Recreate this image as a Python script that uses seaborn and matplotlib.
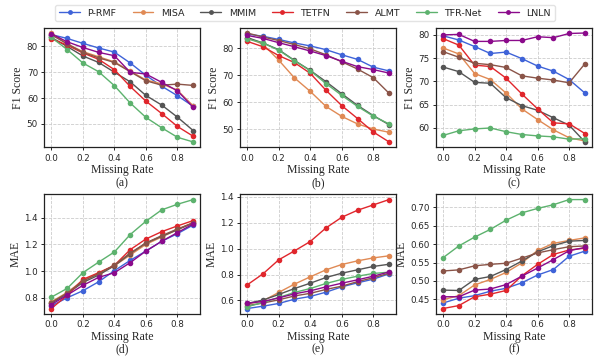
import numpy as np
import pandas as pd
import matplotlib
matplotlib.use("Agg")
import matplotlib.pyplot as plt
from matplotlib.ticker import MultipleLocator, FormatStrFormatter
import seaborn as sns

rates = [0.0, 0.1, 0.2, 0.3, 0.4, 0.5, 0.6, 0.7, 0.8, 0.9]
methods = ["P-RMF", "MISA", "MMIM", "TETFN", "ALMT", "TFR-Net", "LNLN"]
colors = ["#3f63d8", "#e08a55", "#555555", "#e0262c", "#8a5448", "#5db26e", "#8b0a8b"]

# F1 score, one row per method (same order as methods)
f1_a = [
    [84.6, 83.1, 81.2, 79.4, 77.8, 73.6, 68.8, 64.6, 60.9, 56.8],
    [85.2, 81.0, 78.0, 76.0, 74.0, 70.5, 67.0, 65.5, 63.0, 57.0],
    [83.5, 80.0, 76.3, 73.8, 70.0, 66.3, 61.0, 57.3, 52.6, 47.4],
    [83.0, 80.5, 77.5, 75.0, 71.0, 64.5, 58.8, 54.0, 49.0, 45.2],
    [84.5, 81.0, 77.7, 75.6, 73.8, 70.2, 66.7, 65.0, 65.4, 64.9],
    [83.5, 78.8, 73.6, 70.2, 64.8, 58.1, 52.5, 48.5, 44.8, 43.0],
    [84.9, 81.8, 79.6, 77.7, 76.4, 70.0, 69.3, 66.1, 62.8, 56.4],
]
f1_b = [
    [85.3, 84.5, 83.3, 82.0, 80.9, 79.5, 77.6, 75.9, 73.0, 71.6],
    [84.0, 81.5, 75.6, 69.0, 64.0, 58.4, 54.7, 51.9, 50.0, 48.8],
    [84.0, 82.0, 79.5, 75.5, 71.8, 67.6, 63.1, 58.8, 55.0, 51.6],
    [82.6, 80.6, 77.3, 74.7, 70.7, 64.4, 58.7, 53.9, 48.9, 45.2],
    [85.7, 84.2, 82.9, 81.4, 79.8, 77.6, 75.0, 72.3, 69.1, 63.3],
    [83.5, 82.0, 79.3, 75.4, 71.7, 66.9, 62.5, 58.4, 54.8, 51.9],
    [84.8, 83.7, 82.1, 80.6, 79.0, 77.3, 75.2, 73.2, 72.1, 70.8],
]
f1_c = [
    [79.8, 78.9, 77.5, 76.0, 76.3, 74.9, 73.3, 72.2, 70.4, 67.5],
    [77.2, 75.9, 71.7, 70.4, 67.5, 64.1, 61.8, 59.6, 57.9, 57.2],
    [73.1, 72.1, 69.8, 69.6, 66.5, 64.8, 63.8, 62.2, 60.6, 57.0],
    [79.2, 77.8, 73.5, 73.2, 70.7, 67.3, 64.1, 61.1, 60.9, 58.8],
    [76.4, 75.2, 73.9, 73.6, 73.0, 71.2, 70.7, 70.3, 69.7, 73.8],
    [58.4, 59.4, 59.8, 60.0, 59.2, 58.6, 58.3, 58.1, 57.6, 57.7],
    [80.0, 80.1, 78.6, 78.6, 78.8, 78.8, 79.6, 79.4, 80.3, 80.4],
]

# MAE
mae_d = [
    [0.740, 0.800, 0.853, 0.920, 1.003, 1.080, 1.150, 1.223, 1.280, 1.345],
    [0.770, 0.840, 0.930, 0.985, 1.040, 1.120, 1.200, 1.255, 1.310, 1.365],
    [0.760, 0.830, 0.915, 0.970, 1.040, 1.130, 1.210, 1.260, 1.310, 1.360],
    [0.720, 0.818, 0.938, 0.988, 1.043, 1.160, 1.240, 1.295, 1.338, 1.378],
    [0.765, 0.835, 0.925, 0.980, 1.045, 1.135, 1.210, 1.265, 1.315, 1.360],
    [0.805, 0.870, 0.988, 1.067, 1.143, 1.273, 1.373, 1.458, 1.500, 1.535],
    [0.750, 0.820, 0.893, 0.953, 0.988, 1.063, 1.150, 1.223, 1.288, 1.353],
]
mae_e = [
    [0.538, 0.556, 0.577, 0.610, 0.631, 0.664, 0.705, 0.736, 0.764, 0.805],
    [0.572, 0.597, 0.662, 0.726, 0.782, 0.836, 0.877, 0.905, 0.928, 0.944],
    [0.577, 0.603, 0.646, 0.692, 0.733, 0.777, 0.810, 0.836, 0.862, 0.879],
    [0.720, 0.805, 0.913, 0.982, 1.054, 1.159, 1.241, 1.295, 1.336, 1.377],
    [0.560, 0.580, 0.605, 0.635, 0.655, 0.685, 0.710, 0.745, 0.775, 0.810],
    [0.551, 0.585, 0.623, 0.662, 0.692, 0.731, 0.762, 0.787, 0.808, 0.818],
    [0.579, 0.592, 0.620, 0.651, 0.674, 0.705, 0.733, 0.759, 0.787, 0.820],
]
mae_f = [
    [0.440, 0.453, 0.460, 0.472, 0.480, 0.495, 0.516, 0.531, 0.567, 0.581],
    [0.449, 0.460, 0.489, 0.504, 0.523, 0.549, 0.583, 0.602, 0.610, 0.617],
    [0.475, 0.474, 0.504, 0.512, 0.531, 0.554, 0.579, 0.596, 0.608, 0.610],
    [0.425, 0.433, 0.457, 0.464, 0.474, 0.514, 0.545, 0.572, 0.584, 0.589],
    [0.527, 0.530, 0.541, 0.545, 0.548, 0.562, 0.576, 0.585, 0.593, 0.595],
    [0.563, 0.595, 0.619, 0.640, 0.665, 0.685, 0.697, 0.707, 0.721, 0.721],
    [0.457, 0.457, 0.475, 0.478, 0.490, 0.513, 0.535, 0.558, 0.582, 0.591],
]

# (data, y label, caption, y tick step, tick format)
panels = [(f1_a, "F1 Score", "(a)", 10, "%d"), (f1_b, "F1 Score", "(b)", 10, "%d"),
          (f1_c, "F1 Score", "(c)", 5, "%d"), (mae_d, "MAE", "(d)", 0.2, "%.1f"),
          (mae_e, "MAE", "(e)", 0.2, "%.1f"), (mae_f, "MAE", "(f)", 0.05, "%.2f")]

sns.set_style("ticks")
plt.rcParams["font.family"] = ["DejaVu Sans"]

fig, axes = plt.subplots(2, 3, figsize=(5.98, 3.58), dpi=100)
fig.subplots_adjust(left=0.074, right=0.99, top=0.923, bottom=0.123, wspace=0.255, hspace=0.39)

serif = ["Liberation Serif", "DejaVu Serif"]

for ax, (vals, ylab, tag, step, fmt) in zip(axes.flat, panels):
    rows = []
    for m, v in zip(methods, vals):
        for r, y in zip(rates, v):
            rows.append((m, r, y))
    df = pd.DataFrame(rows, columns=["method", "rate", "value"])
    sns.lineplot(data=df, x="rate", y="value", hue="method", hue_order=methods,
                 palette=colors, marker="o", markersize=4, markeredgewidth=0,
                 linewidth=1.0, ax=ax, legend=True)
    ax.get_legend().remove()
    ax.grid(True, linestyle="--", color="#cccccc", linewidth=0.6)
    ax.set_xticks([0.0, 0.2, 0.4, 0.6, 0.8])
    ax.yaxis.set_major_locator(MultipleLocator(step))
    ax.yaxis.set_major_formatter(FormatStrFormatter(fmt))
    ax.tick_params(labelsize=6.3, length=2.5, width=0.7, pad=2)
    for s in ax.spines.values():
        s.set_color("#222222")
        s.set_linewidth(0.9)
    ax.set_ylabel(ylab, family=serif, fontsize=8.5, labelpad=2)
    ax.set_xlabel("Missing Rate\n" + tag, family=serif, fontsize=8.5, labelpad=1, linespacing=1.1)

handles, labels = axes[0, 0].get_legend_handles_labels()
fig.legend(handles, labels, loc="upper center", bbox_to_anchor=(0.51, 1.0), ncol=7,
           fontsize=6.8, frameon=True, handlelength=2.2, columnspacing=1.7,
           borderpad=0.4, handletextpad=0.8, edgecolor="#dddddd", fancybox=True)
for h in fig.legends[0].legend_handles:
    h.set_markeredgewidth(0)
    h.set_markersize(3.5)

fig.savefig("out.png", dpi=100)
